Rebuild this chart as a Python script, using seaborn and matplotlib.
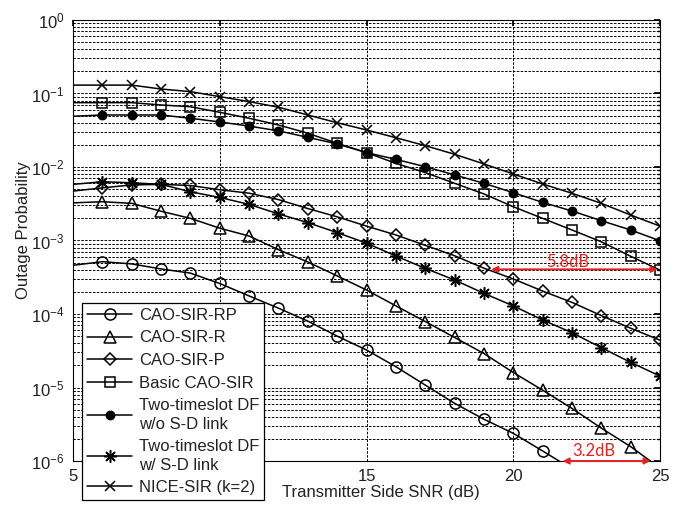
import numpy as np
import pandas as pd
import matplotlib
matplotlib.use('Agg')
import matplotlib.pyplot as plt
from matplotlib.lines import Line2D
import seaborn as sns

snr = [5, 6, 7, 8, 9, 10, 11, 12, 13, 14, 15, 16, 17, 18, 19, 20, 21, 22, 23, 24, 25]

cao_sir_rp = [4.6e-4, 5.15e-4, 4.8e-4, 4.1e-4, 3.6e-4, 2.6e-4, 1.76e-4, 1.2e-4, 8.0e-5, 5.0e-5,
              3.24e-5, 1.92e-5, 1.08e-5, 6.1e-6, 3.7e-6, 2.38e-6, 1.37e-6, 7.8e-7, 4.5e-7, 2.6e-7, 1.5e-7]
cao_sir_r = [3.25e-3, 3.37e-3, 3.2e-3, 2.5e-3, 2.0e-3, 1.47e-3, 1.15e-3, 7.5e-4, 5.1e-4, 3.3e-4,
             2.12e-4, 1.29e-4, 7.9e-5, 4.8e-5, 2.9e-5, 1.6e-5, 9.2e-6, 5.2e-6, 2.8e-6, 1.57e-6, 8.0e-7]
cao_sir_p = [4.7e-3, 5.2e-3, 5.7e-3, 5.8e-3, 5.6e-3, 4.9e-3, 4.4e-3, 3.6e-3, 2.72e-3, 2.1e-3,
             1.57e-3, 1.19e-3, 8.6e-4, 6.2e-4, 4.2e-4, 3.0e-4, 2.05e-4, 1.44e-4, 9.5e-5, 6.4e-5, 4.4e-5]
basic_cao_sir = [0.075, 0.075, 0.075, 0.0698, 0.066, 0.0555, 0.046, 0.0373, 0.0288, 0.021,
                 0.0157, 0.0112, 0.0084, 0.006, 0.0043, 0.00288, 0.002, 0.00139, 0.00096, 6.1e-4, 3.95e-4]
df_wo_sd = [0.049, 0.051, 0.051, 0.051, 0.046, 0.041, 0.036, 0.031, 0.0253, 0.0206,
            0.0157, 0.0127, 0.0101, 0.0078, 0.006, 0.00447, 0.0033, 0.00252, 0.00186, 0.00139, 9.9e-4]
df_w_sd = [5.8e-3, 6.3e-3, 6.1e-3, 5.8e-3, 4.6e-3, 3.85e-3, 3.1e-3, 2.3e-3, 1.75e-3, 1.28e-3,
           9.2e-4, 6.15e-4, 4.18e-4, 2.9e-4, 1.91e-4, 1.29e-4, 8.3e-5, 5.57e-5, 3.48e-5, 2.2e-5, 1.43e-5]
nice_sir = [0.13, 0.13, 0.13, 0.115, 0.106, 0.0906, 0.0775, 0.065, 0.051, 0.040,
            0.0319, 0.025, 0.0195, 0.0149, 0.011, 0.00803, 0.00587, 0.00439, 0.0032, 0.00222, 0.00157]

labels = ['CAO-SIR-RP', 'CAO-SIR-R', 'CAO-SIR-P', 'Basic CAO-SIR',
          'Two-timeslot DF\nw/o S-D link', 'Two-timeslot DF\nw/ S-D link', 'NICE-SIR (k=2)']
series = [cao_sir_rp, cao_sir_r, cao_sir_p, basic_cao_sir, df_wo_sd, df_w_sd, nice_sir]

sns.set_theme(style='white')
plt.rcParams['font.family'] = ['Liberation Sans', 'DejaVu Sans']
plt.rcParams['mathtext.fontset'] = 'custom'
plt.rcParams['mathtext.rm'] = 'Liberation Sans'

styles = [
    dict(marker='o', markersize=8, markerfacecolor='none'),
    dict(marker='^', markersize=8, markerfacecolor='none'),
    dict(marker='D', markersize=6.5, markerfacecolor='none'),
    dict(marker='s', markersize=7.5, markerfacecolor='none'),
    dict(marker='o', markersize=6, markerfacecolor='black'),
    dict(marker=(8, 2, 0), markersize=9, markerfacecolor='black'),
    dict(marker='x', markersize=7, markerfacecolor='black'),
]

fig = plt.figure(figsize=(6.81, 5.07), dpi=100)
ax = fig.add_axes([0.1072, 0.0907, 0.8620, 0.8699])

handles = []
for vals, lab, st in zip(series, labels, styles):
    d = pd.DataFrame({'snr': snr, 'p': vals})
    sns.lineplot(data=d, x='snr', y='p', ax=ax, color='black', linewidth=1.1,
                 markeredgecolor='black', markeredgewidth=1.1, markevery=slice(1, None),
                 legend=False, **st)
    handles.append(Line2D([], [], color='black', linewidth=1.1, markeredgecolor='black',
                          markeredgewidth=1.1, **st))

ax.set_yscale('log')
ax.set_xlim(5, 25)
ax.set_ylim(1e-6, 1)
ax.set_xticks([5, 10, 15, 20, 25])

grid_kw = dict(color='black', linestyle=(0, (2.5, 1.5)), linewidth=0.7)
ax.grid(True, which='major', axis='both', **grid_kw)
ax.grid(True, which='minor', axis='y', **grid_kw)
ax.tick_params(which='both', direction='in', top=True, right=True, colors='black',
               labelcolor='#222222', labelsize=12, pad=6)
ax.tick_params(which='major', length=4)
ax.tick_params(which='minor', length=2.5)
for sp in ax.spines.values():
    sp.set_color('black')
    sp.set_linewidth(0.8)

ax.set_xlabel('Transmitter Side SNR (dB)', fontsize=12, color='#222222')
ax.set_ylabel('Outage Probability', fontsize=12, color='#222222')
ax.xaxis.set_label_coords(0.525, -0.055)
ax.yaxis.set_label_coords(-0.072, 0.524)

red = '#e3211f'
ax.annotate('', xy=(19.25, 4.05e-4), xytext=(24.92, 4.05e-4),
            arrowprops=dict(arrowstyle='<|-|>', color=red, lw=1.4, mutation_scale=9,
                            shrinkA=0, shrinkB=0))
ax.text(21.85, 5.1e-4, '5.8dB', color=red, fontsize=12, family=['Lato', 'DejaVu Sans'],
        ha='center', va='center')
ax.annotate('', xy=(21.68, 1.0e-6), xytext=(24.68, 1.0e-6),
            arrowprops=dict(arrowstyle='<|-|>', color=red, lw=1.4, mutation_scale=9,
                            shrinkA=0, shrinkB=0), annotation_clip=False)
ax.text(22.75, 1.38e-6, '3.2dB', color=red, fontsize=12, family=['Lato', 'DejaVu Sans'],
        ha='center', va='center')

leg = ax.legend(handles, labels, loc='upper left', bbox_to_anchor=(82 / 681, 1 - 303 / 507),
                bbox_transform=fig.transFigure, borderaxespad=0, fontsize=12,
                frameon=True, fancybox=False, framealpha=1, edgecolor='black',
                handlelength=2.7, handletextpad=0.4, labelspacing=0.45, borderpad=0.3)
leg.get_frame().set_linewidth(0.9)
for t in leg.get_texts():
    t.set_color('#222222')
    t.set_linespacing(1.3)

fig.savefig('out.png', dpi=100)
